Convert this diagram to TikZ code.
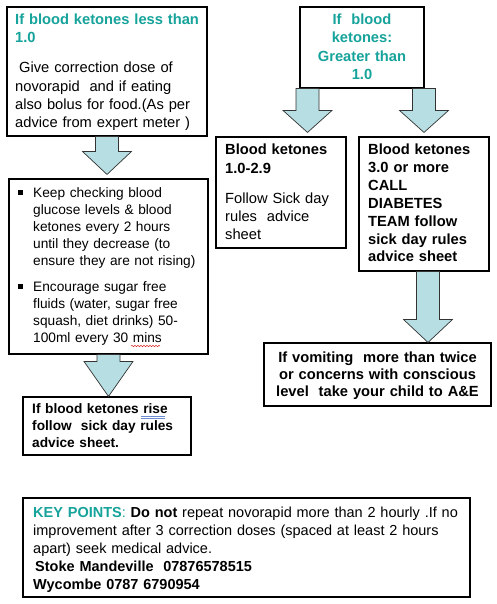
\documentclass[tikz,border=0pt]{standalone}
\usepackage{fontspec}
\setmainfont{Liberation Sans}
\usetikzlibrary{calc,decorations.pathmorphing}
\definecolor{keyteal}{RGB}{22,163,155}
\definecolor{arrowfill}{RGB}{183,222,227}
\definecolor{spellred}{RGB}{220,40,40}
\definecolor{gramblue}{RGB}{110,140,210}
% #1 start point (top centre of shaft), #2 tip point, #3 head length
\newcommand\blockarrow[3]{%
  \filldraw[barrow] let \p1=(#1), \p2=(#2) in
    (\x1-11.5pt,\y1) -- (\x1+11.5pt,\y1) -- (\x1+11.5pt,\y2+#3) --
    (\x1+24.5pt,\y2+#3) -- (\x1,\y2) -- (\x1-24.5pt,\y2+#3) --
    (\x1-11.5pt,\y2+#3) -- cycle;}
\newcommand\sqbullet{\makebox[15pt][l]{\rule[2.8pt]{4.5pt}{4.5pt}}}
\begin{document}
\begin{tikzpicture}[x=1pt,y=-1pt,
  box/.style={draw, line width=1.1pt, inner sep=0pt},
  barrow/.style={draw=black!80, line width=0.7pt, fill=arrowfill},
  bodytext/.style={inner sep=0pt, align=left, anchor=base west, text width=445pt,
    font=\fontsize{14.7}{18.3}\selectfont},
  smalltext/.style={bodytext, font=\fontsize{13.7}{17}\selectfont},
  centretext/.style={inner sep=0pt, align=center, anchor=base,
    font=\fontsize{14.7}{18.5}\selectfont\bfseries}]
\useasboundingbox[fill=white] (0,0) rectangle (496,604);

% boxes
\node[box, minimum width=200pt, minimum height=129pt] (b1) at (107,71.5) {};
\node[box, minimum width=199pt, minimum height=175pt] (b2) at (108.5,266.5) {};
\node[box, minimum width=168pt, minimum height=58pt]  (b3) at (107,426) {};
\node[box, minimum width=124pt, minimum height=81pt]  (rt) at (362,47.5) {};
\node[box, minimum width=130pt, minimum height=111pt] (k1) at (281,192.5) {};
\node[box, minimum width=130pt, minimum height=134pt] (k3) at (424,204) {};
\node[box, minimum width=227pt, minimum height=63pt]  (vm) at (377.5,374.5) {};
\node[box, minimum width=447pt, minimum height=99pt]  (kp) at (246.5,547.5) {};

% texts
\node[bodytext] (t1) at (15,24.5) {{\color{keyteal}\bfseries If blood ketones less than\\1.0}\\[11.7pt]
\hspace*{4pt}Give correction dose of\\novorapid\ \ and if eating\\also bolus for food.(As per\\advice from expert meter )};

\node[smalltext] (t2) at (18,197.5) {\sqbullet Keep checking blood\\
\hspace*{15pt}glucose levels \& blood\\
\hspace*{15pt}ketones every 2 hours\\
\hspace*{15pt}until they decrease (to\\
\hspace*{15pt}ensure they are not rising)\\[9pt]
\sqbullet Encourage sugar free\\
\hspace*{15pt}fluids (water, sugar free\\
\hspace*{15pt}squash, diet drinks) 50-\\
\hspace*{15pt}100ml every 30 mins};

\node[smalltext, font=\fontsize{13.7}{17}\selectfont\bfseries] (t3) at (32,413) {If blood ketones rise\\follow\ \ sick day rules\\advice sheet.};

\node[centretext, text width=124pt, text=keyteal] (t4) at (362,24.5) {If\ \ blood\\ketones:\\Greater than\\1.0};

\node[bodytext] (t5) at (225,155) {\textbf{Blood ketones}\\\textbf{1.0-2.9}\\[11.7pt]Follow Sick day\\rules\ \ advice\\sheet};

\node[bodytext, font=\fontsize{14.7}{17.8}\selectfont\bfseries] (t6) at (368,155) {Blood ketones\\3.0 or more\\CALL\\DIABETES\\TEAM follow\\sick day rules\\advice sheet};

\node[centretext, text width=227pt, font=\fontsize{14.7}{17}\selectfont\bfseries] (t7) at (377.5,362) {If vomiting\ \ more than twice\\or concerns with conscious\\level\ \ take your child to A\&E};

\node[bodytext, font=\fontsize{14.5}{18}\selectfont] (t8) at (33,517) {{\color{keyteal}\bfseries KEY POINTS}{\color{keyteal}:} \textbf{Do not} repeat novorapid more than 2 hourly .If no\\improvement after 3 correction doses (spaced at least 2 hours\\apart) seek medical advice.\\\hspace*{2pt}\textbf{Stoke Mandeville\ \ 07876578515}\\\textbf{Wycombe 0787 6790954}};

% proofing marks
\coordinate (w1) at (131,346);
\coordinate (w2) at (160,346);
\draw[spellred, line width=0.5pt, decorate, decoration={snake, amplitude=0.7pt, segment length=3pt}] (w1) -- (w2);
\coordinate (r1) at (141,416);
\coordinate (r2) at (165,416);
\draw[gramblue, line width=0.5pt] (r1) -- (r2);
\draw[gramblue, line width=0.5pt] ([yshift=-2pt]r1) -- ([yshift=-2pt]r2);

% block arrows
\coordinate (a3s) at ($(rt.south)+(-54.5,0)$);
\coordinate (a4s) at ($(rt.south)+(62,0)$);
\coordinate (a5s) at ($(k3.south)+(4,0)$);
\blockarrow{b1.south}{$(b1.south |- b2.north)+(0,-4)$}{23pt}
\blockarrow{b2.south}{b2.south |- b3.north}{35pt}
\blockarrow{a3s}{$(a3s |- k1.north)+(0,-4)$}{22pt}
\blockarrow{a4s}{$(a4s |- k3.north)+(0,-4)$}{22pt}
\blockarrow{a5s}{a5s |- vm.north}{23pt}
\end{tikzpicture}
\end{document}
